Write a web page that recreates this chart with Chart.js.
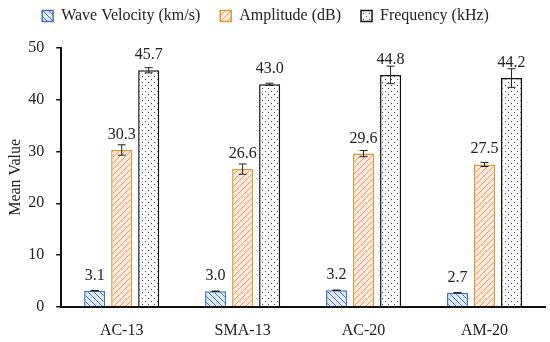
<!DOCTYPE html>
<html>
<head>
<meta charset="utf-8">
<script src="https://cdn.jsdelivr.net/npm/chart.js@4/dist/chart.umd.min.js"></script>
<style>
html, body { margin: 0; padding: 0; background: #fff; }
#wrap { width: 550px; height: 342px; }
</style>
</head>
<body>
<div id="wrap"><canvas id="chart" width="550" height="342"></canvas></div>
<script>
// Mean values per mix type
const categories = ['AC-13', 'SMA-13', 'AC-20', 'AM-20'];
const waveVelocity = [3.1, 3.0, 3.2, 2.7];
const amplitude = [30.3, 26.6, 29.6, 27.5];
const frequency = [45.7, 43.0, 44.8, 44.2];
// Error bar half-lengths
const waveErr = [0.05, 0.05, 0.05, 0.05];
const ampErr = [1.0, 1.0, 0.6, 0.4];
const freqErr = [0.5, 0.2, 1.7, 1.8];
const yTicks = [0, 10, 20, 30, 40, 50];

const FONT = '"Liberation Serif", "DejaVu Serif", serif';

function makePattern(kind) {
  const s = 6;
  const p = document.createElement('canvas');
  p.width = s; p.height = s;
  const c = p.getContext('2d');
  if (kind === 'wave') {
    c.fillStyle = '#dfe9f8';
    c.fillRect(0, 0, s, s);
    c.strokeStyle = '#4272c6';
    c.lineWidth = 1;
    c.beginPath();
    c.moveTo(-1, -1); c.lineTo(s + 1, s + 1);
    c.moveTo(-1, s - 1); c.lineTo(1, s + 1);
    c.moveTo(s - 1, -1); c.lineTo(s + 1, 1);
    c.stroke();
  } else if (kind === 'amp') {
    c.fillStyle = '#fdeadc';
    c.fillRect(0, 0, s, s);
    c.strokeStyle = '#ef9a66';
    c.lineWidth = 1;
    c.beginPath();
    c.moveTo(-1, s + 1); c.lineTo(s + 1, -1);
    c.moveTo(-1, 1); c.lineTo(1, -1);
    c.moveTo(s - 1, s + 1); c.lineTo(s + 1, s - 1);
    c.stroke();
  } else {
    c.fillStyle = '#ffffff';
    c.fillRect(0, 0, s, s);
    c.fillStyle = '#444';
    c.fillRect(1, 1, 1, 1);
    c.fillRect(4, 4, 1, 1);
  }
  return c.createPattern(p, 'repeat');
}

const errorMap = [waveErr, ampErr, freqErr];

// Draws error bars and value labels on top of the bars
const barExtras = {
  id: 'barExtras',
  beforeInit(chart) {
    // extra room between the legend and the plot, legend nudged left
    const legend = chart.legend;
    const fit = legend.fit;
    legend.fit = function () {
      fit.call(this);
      this.height += 14;
    };
    const draw = legend.draw;
    legend.draw = function () {
      this.ctx.save();
      this.ctx.translate(-10, 0);
      draw.call(this);
      this.ctx.restore();
    };
  },
  afterDatasetsDraw(chart) {
    const c = chart.ctx;
    const yScale = chart.scales.y;
    c.save();
    chart.data.datasets.forEach((ds, di) => {
      const meta = chart.getDatasetMeta(di);
      meta.data.forEach((bar, i) => {
        const v = ds.data[i];
        const e = errorMap[di][i];
        c.fillStyle = '#222';
        c.font = '16px ' + FONT;
        c.textAlign = 'center';
        c.textBaseline = 'alphabetic';
        c.fillText(v.toFixed(1), bar.x, bar.y - 11);
        const yt = yScale.getPixelForValue(v + e);
        const yb = yScale.getPixelForValue(v - e);
        c.strokeStyle = '#222';
        c.lineWidth = 1;
        c.beginPath();
        c.moveTo(bar.x, yt); c.lineTo(bar.x, yb);
        c.moveTo(bar.x - 4, yt); c.lineTo(bar.x + 4, yt);
        c.moveTo(bar.x - 4, yb); c.lineTo(bar.x + 4, yb);
        c.stroke();
      });
    });
    c.restore();
  }
};

const ctx = document.getElementById('chart');
new Chart(ctx, {
  type: 'bar',
  data: {
    labels: categories,
    datasets: [
      { label: 'Wave Velocity (km/s)', data: waveVelocity, backgroundColor: makePattern('wave'), borderColor: '#4472c4', borderWidth: 1.5 },
      { label: 'Amplitude (dB)', data: amplitude, backgroundColor: makePattern('amp'), borderColor: '#d99a3c', borderWidth: 1.5 },
      { label: 'Frequency (kHz)', data: frequency, backgroundColor: makePattern('freq'), borderColor: '#111', borderWidth: 1.5 }
    ]
  },
  options: {
    responsive: false,
    animation: false,
    events: [],
    categoryPercentage: 0.67,
    barPercentage: 0.78,
    layout: { padding: { top: -12, right: 5, left: 6, bottom: -12 } },
    plugins: {
      legend: {
        position: 'top',
        labels: {
          color: '#222',
          font: { family: FONT, size: 16 },
          boxWidth: 11,
          boxHeight: 11,
          padding: 20
        }
      },
      tooltip: { enabled: false }
    },
    scales: {
      x: {
        grid: { display: true, drawOnChartArea: false, drawTicks: false, color: 'rgba(0,0,0,0)' },
        border: { display: true, color: '#111', width: 2 },
        ticks: { color: '#222', font: { family: FONT, size: 16 }, padding: 14 }
      },
      y: {
        min: 0,
        max: 50,
        afterBuildTicks(axis) { axis.ticks = yTicks.map(v => ({ value: v })); },
        grid: { display: true, drawOnChartArea: false, drawTicks: true, tickLength: 5, color: '#111', lineWidth: 1.5 },
        border: { display: true, color: '#111', width: 2 },
        ticks: { color: '#222', font: { family: FONT, size: 16 }, padding: 12 },
        title: { display: true, text: 'Mean Value', color: '#222', font: { family: FONT, size: 16 }, padding: { top: 0, bottom: -9 } }
      }
    }
  },
  plugins: [barExtras]
});
</script>
</body>
</html>
